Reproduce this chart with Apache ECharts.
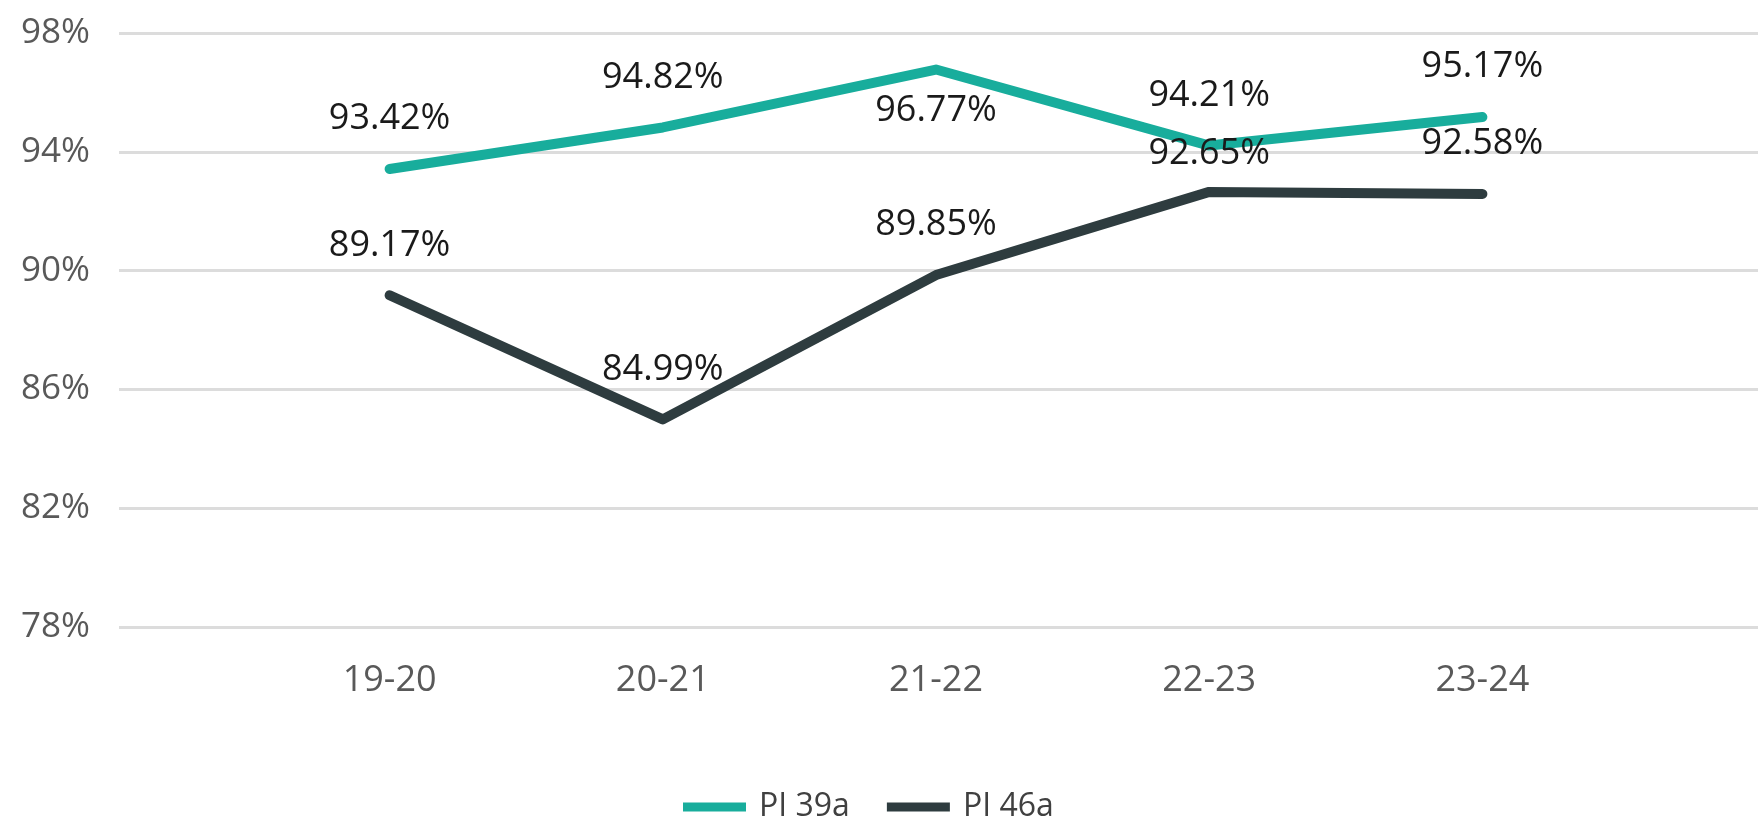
<!DOCTYPE html>
<html>
<head>
<meta charset="utf-8">
<script src="https://cdn.jsdelivr.net/npm/echarts@6/dist/echarts.min.js"></script>
<style>
html,body{margin:0;padding:0;background:#fff;}
#chart{width:1758px;height:819px;}
</style>
</head>
<body>
<div id="chart"></div>
<script>
// ---- data ----
const categories = ['19-20', '20-21', '21-22', '22-23', '23-24'];
const pi39a = [93.42, 94.82, 96.77, 94.21, 95.17];
const pi46a = [89.17, 84.99, 89.85, 92.65, 92.58];
const seriesNames = ['PI 39a', 'PI 46a'];
const yMin = 78, yMax = 98, yInterval = 4;

// ---- styling ----
const FONT = 'Open Sans';
const colors = ['#18ad9c', '#2e3c3f'];
const labelOverrides = {
  'PI 39a': { 2: { position: 'bottom', distance: 22 } },
  'PI 46a': { 3: { position: 'top', distance: 19 } }
};

function buildData(name, values) {
  const ov = labelOverrides[name] || {};
  return values.map((v, i) => ov[i] ? { value: v, label: ov[i] } : v);
}

const chart = echarts.init(document.getElementById('chart'));
const gridTop = 33, gridBottom = 192;

function lineSeries(idx, values) {
  return {
    name: seriesNames[idx], type: 'line', xAxisIndex: 1, yAxisIndex: 1,
    data: buildData(seriesNames[idx], values),
    symbol: 'circle', symbolSize: 2, showSymbol: true, smooth: false,
    lineStyle: { color: colors[idx], width: 10, cap: 'round', join: 'round' },
    itemStyle: { color: colors[idx] },
    label: {
      show: true, position: 'top', distance: 31,
      fontFamily: FONT, fontSize: 36, color: '#1a1a1a',
      formatter: p => p.value.toFixed(2) + '%'
    },
    emphasis: { disabled: true }
  };
}

const option = {
  backgroundColor: '#ffffff',
  animation: false,
  grid: [
    { left: 119, right: 0, top: gridTop, bottom: gridBottom, containLabel: false },
    { left: 253, right: 139, top: gridTop, bottom: gridBottom, containLabel: false }
  ],
  legend: {
    data: seriesNames,
    left: 678,
    top: 786,
    icon: 'rect',
    itemWidth: 63,
    itemHeight: 9,
    itemGap: 37,
    textStyle: { fontFamily: FONT, fontSize: 32, color: '#404040', padding: [0, 0, 0, 8] }
  },
  xAxis: [
    { type: 'value', gridIndex: 0, show: false, min: 0, max: 1 },
    {
      type: 'category', gridIndex: 1, data: categories, boundaryGap: true,
      axisLine: { show: false }, axisTick: { show: false },
      axisLabel: { fontFamily: FONT, fontSize: 36, color: '#595959', margin: 36 }
    }
  ],
  yAxis: [
    {
      type: 'value', gridIndex: 0, min: yMin, max: yMax, interval: yInterval,
      axisLine: { show: false }, axisTick: { show: false },
      axisLabel: { fontFamily: FONT, fontSize: 35, color: '#595959', margin: 29, formatter: '{value}%' },
      splitLine: { lineStyle: { color: '#dcdcdc', width: 3 } }
    },
    {
      type: 'value', gridIndex: 1, min: yMin, max: yMax, interval: yInterval,
      show: false, splitLine: { show: false }
    }
  ],
  series: [lineSeries(0, pi39a), lineSeries(1, pi46a)]
};
chart.setOption(option);
</script>
</body>
</html>
